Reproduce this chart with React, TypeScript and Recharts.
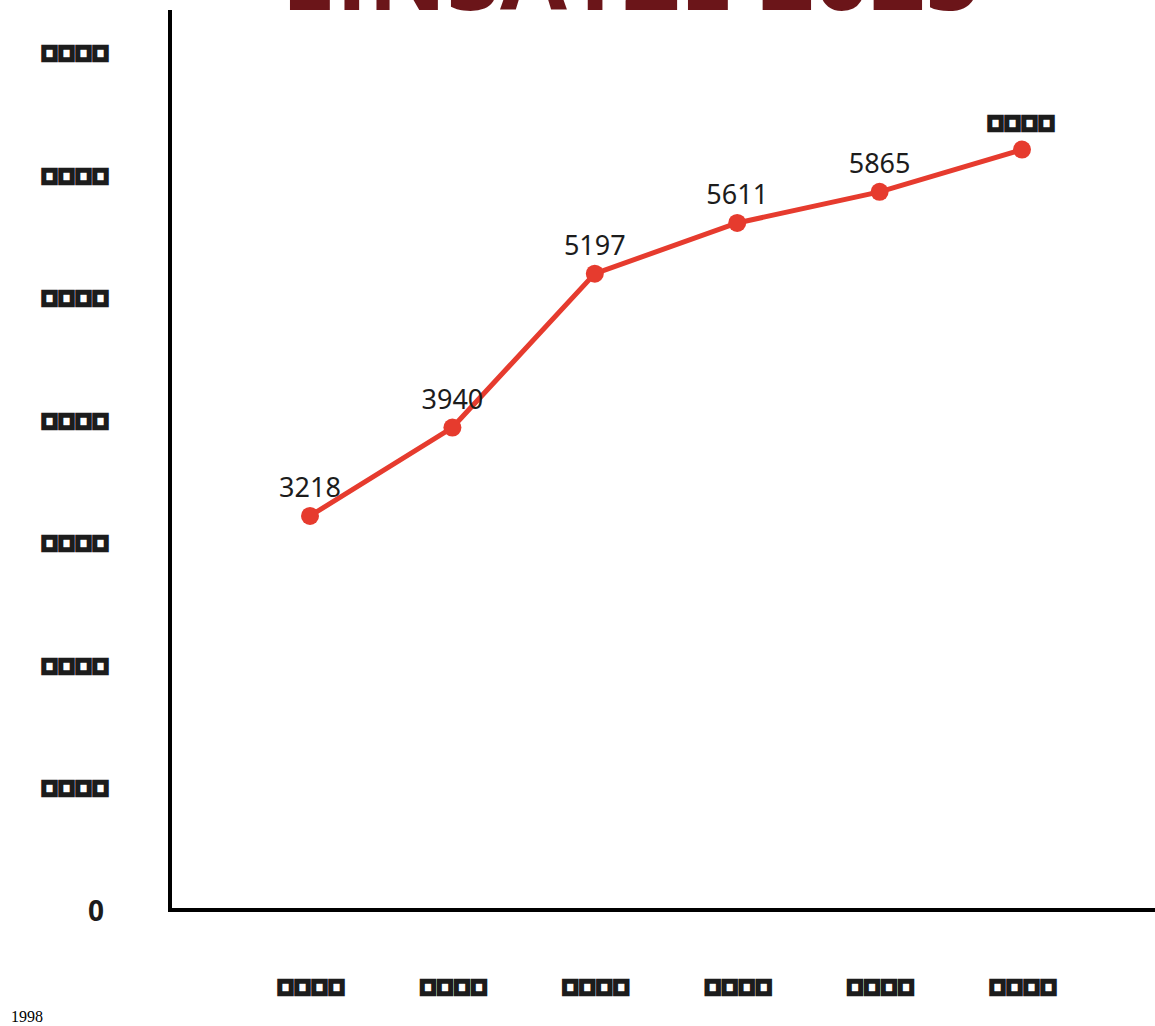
import React from 'react';
import { LineChart, Line, XAxis, YAxis, LabelList } from 'recharts';

const TOFU = '\u25A1\u25A1\u25A1\u25A1';

const title = 'EINSÄTZE 2025';
const footnote = '1998';
const categories = [TOFU, TOFU, TOFU, TOFU, TOFU, TOFU];
const values = [3218, 3940, 5197, 5611, 5865, 6210];
const pointLabels = ['3218', '3940', '5197', '5611', '5865', TOFU];
const yTicks = [0, 1000, 2000, 3000, 4000, 5000, 6000, 7000];
const yTickLabels = ['0', TOFU, TOFU, TOFU, TOFU, TOFU, TOFU, TOFU];

const data = categories.map((c, i) => ({ idx: i, value: values[i], label: pointLabels[i] }));

const LINE_COLOR = '#e63b2e';
const TEXT_COLOR = '#1c1c1c';

const isTofu = (s: string) => s.indexOf('\u25A1') >= 0;

function ChartText({ x, y, text, anchor, size, weight, central, tofuDx = 0 }: any) {
  if (isTofu(text)) {
    return (
      <text
        x={x + tofuDx}
        y={y}
        textAnchor={anchor}
        dominantBaseline="central"
        fontFamily="'Noto Sans CJK JP'"
        fontSize={15}
        letterSpacing={2}
        fill={TEXT_COLOR}
        stroke={TEXT_COLOR}
        strokeWidth={4.5}
        strokeLinejoin="miter"
      >
        {text}
      </text>
    );
  }
  return (
    <text
      x={x}
      y={y}
      textAnchor={anchor}
      dominantBaseline={central ? 'central' : 'auto'}
      fontFamily="'Noto Sans', sans-serif"
      fontSize={size}
      fontWeight={weight}
      fill={TEXT_COLOR}
    >
      {text}
    </text>
  );
}

const YTick = (props: any) => {
  const { x, y, payload } = props;
  const i = yTicks.indexOf(payload.value);
  const label = yTickLabels[i] ?? String(payload.value);
  return <ChartText x={x - 66} y={y} text={label} anchor="end" size={28} weight={700} central tofuDx={6} />;
};

const XTick = (props: any) => {
  const { x, y, payload } = props;
  const label = categories[payload.value] ?? '';
  return <ChartText x={x} y={y + 76} text={label} anchor="middle" size={28} weight={700} central tofuDx={2} />;
};

const PointLabel = (props: any) => {
  const { x, y, index } = props;
  const label = pointLabels[index];
  if (isTofu(label)) {
    return <ChartText x={x} y={y - 27} text={label} anchor="middle" size={27} weight={400} tofuDx={0} />;
  }
  return <ChartText x={x} y={y - 19} text={label} anchor="middle" size={27} weight={400} />;
};

export default function App() {
  return (
    <div style={{ position: 'relative', width: 1147, padding: '8px 0 0 8px', overflow: 'visible' }}>
      <style>{'html,body{overflow:hidden;margin:0;}'}</style>
      <div
        style={{
          position: 'absolute',
          left: 631,
          top: -77,
          transform: 'translateX(-50%)',
          whiteSpace: 'nowrap',
          fontFamily: "'Open Sans', sans-serif",
          fontWeight: 700,
          fontSize: 97,
          lineHeight: '98px',
          color: '#6b1519',
        }}
      >
        {title}
      </div>
      <LineChart width={1147} height={1000} data={data} margin={{ top: 2, right: 0, left: 0, bottom: 0 }}>
        <XAxis
          dataKey="idx"
          type="category"
          scale="point"
          padding={{ left: 140, right: 133 }}
          axisLine={{ stroke: '#000', strokeWidth: 4, strokeLinecap: 'square' }}
          tickLine={false}
          tickSize={0}
          tickMargin={0}
          height={98}
          interval={0}
          tick={<XTick />}
        />
        <YAxis
          type="number"
          domain={[0, 7350]}
          ticks={yTicks}
          width={162}
          axisLine={{ stroke: '#000', strokeWidth: 4 }}
          tickLine={false}
          tickSize={0}
          tickMargin={0}
          interval={0}
          tick={<YTick />}
        />
        <Line
          type="linear"
          dataKey="value"
          stroke={LINE_COLOR}
          strokeWidth={5}
          dot={{ r: 9, fill: LINE_COLOR, stroke: 'none' }}
          activeDot={false}
          isAnimationActive={false}
        >
          <LabelList dataKey="label" content={<PointLabel />} />
        </Line>
      </LineChart>
      <div style={{ paddingLeft: 3, lineHeight: 'normal', whiteSpace: 'nowrap' }}>{footnote}</div>
    </div>
  );
}
